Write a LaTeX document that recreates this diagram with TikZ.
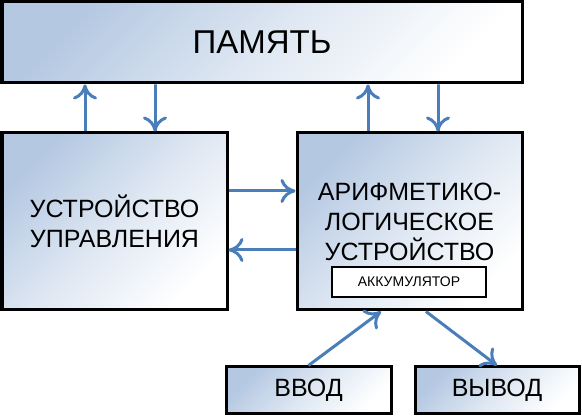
\documentclass[tikz,border=0pt]{standalone}
\usepackage{fontspec}
\setmainfont{Liberation Sans}
\usetikzlibrary{arrows.meta}
\definecolor{boxblue}{HTML}{B4C8E2}
\definecolor{flowblue}{HTML}{4A7EBB}

\begin{document}
\begin{tikzpicture}[x=1pt,y=1pt,
  block/.style={draw, line width=3pt, top color=boxblue, bottom color=white,
    middle color=boxblue!45, shading angle=45, inner sep=0pt, align=center,
    font=\fontsize{25}{30}\selectfont},
  accbox/.style={draw, fill=white, line width=2.5pt, inner sep=0pt,
    font=\fontsize{14}{16}\selectfont},
  flow/.style={draw=flowblue, line width=3pt,
    -{Computer Modern Rightarrow[length=15pt,width=24pt]}}]
  \useasboundingbox (0,0) rectangle (582,417);

  % Memory
  \node[block, minimum width=520, minimum height=81,
    font=\fontsize{33}{36}\selectfont] (mem) at (262,374.5) {ПАМЯТЬ};

  % Control unit
  \node[block, minimum width=225, minimum height=177] (ctrl) at (114.5,195.5)
    {УСТРОЙСТВО\\УПРАВЛЕНИЯ};

  % ALU
  \node[block, minimum width=225, minimum height=177] (alu) at (409.5,195.5)
    {АРИФМЕТИКО-\\ЛОГИЧЕСКОЕ\\УСТРОЙСТВО};
  \node[accbox, minimum width=154, minimum height=30] (acc) at (409,135) {АККУМУЛЯТОР};

  % Input and output
  \node[block, minimum width=165, minimum height=47] (inp) at (308.5,26.5) {ВВОД};
  \node[block, minimum width=164, minimum height=47] (outp) at (497,26.5) {ВЫВОД};

  % Memory <-> control unit
  \draw[flow] (ctrl.north) ++(-29.5,0) coordinate (cu1) -- (cu1 |- mem.south);
  \draw[flow] (ctrl.north) ++(40.5,0) coordinate (cu2) -- (cu2 |- mem.south) -- (cu2);
  % Memory <-> ALU
  \draw[flow] (alu.north) ++(-41.5,0) coordinate (al1) -- (al1 |- mem.south);
  \draw[flow] (alu.north) ++(28.5,0) coordinate (al2) -- (al2 |- mem.south) -- (al2);

  % Control unit <-> ALU
  \draw[flow] (ctrl.east) ++(0,30.5) coordinate (h1) -- (h1 -| alu.west);
  \draw[flow] (alu.west) ++(0,-28.5) coordinate (h2) -- (h2 -| ctrl.east);

  % Input -> ALU -> output
  \draw[flow] (inp.north) -- ([xshift=-28.5]alu.south);
  \draw[flow] ([xshift=16.5]alu.south) -- (outp.north);

\end{tikzpicture}
\end{document}
